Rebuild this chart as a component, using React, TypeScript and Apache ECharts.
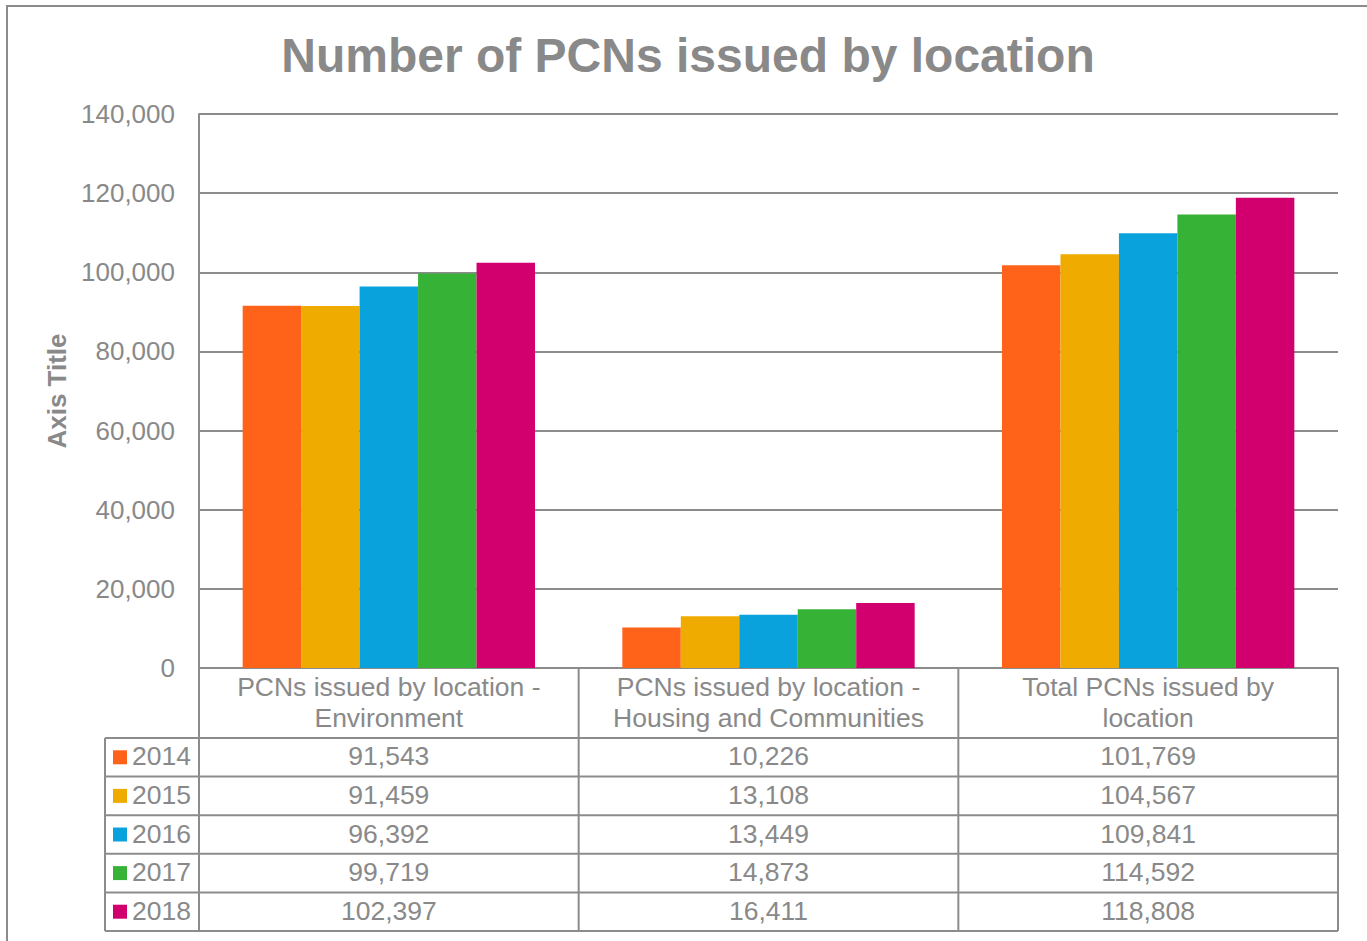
import React, { useEffect, useRef } from "react";
import * as echarts from "echarts";

const categories = [
  "PCNs issued by location -\nEnvironment",
  "PCNs issued by location -\nHousing and Communities",
  "Total PCNs issued by\nlocation",
];
const years = ["2014", "2015", "2016", "2017", "2018"];
const values2014 = [91543, 10226, 101769];
const values2015 = [91459, 13108, 104567];
const values2016 = [96392, 13449, 109841];
const values2017 = [99719, 14873, 114592];
const values2018 = [102397, 16411, 118808];
const seriesValues = [values2014, values2015, values2016, values2017, values2018];
const colors = ["#FF6319", "#F0AB00", "#0AA2DC", "#36B236", "#D2006F"];
const yTicks = { min: 0, max: 140000, interval: 20000 };

const TEXT = "#898989";
const LINE = "#8C8C8C";
const FONT = "'Liberation Sans', Arial, sans-serif";

const GRID_LEFT = 199;
const GRID_RIGHT = 1338;
const GRID_TOP = 114;
const GRID_BOTTOM = 668;
const HEADER_BOTTOM = 738;
const ROW_H = (931 - HEADER_BOTTOM) / years.length;
const KEY_LEFT = 105;

const fmt = (v: number) => v.toLocaleString("en-US");

export default function App() {
  const ref = useRef<HTMLDivElement>(null);
  useEffect(() => {
    if (!ref.current) return;
    const chart = echarts.init(ref.current, undefined, { renderer: "svg" });
    const colW = (GRID_RIGHT - GRID_LEFT) / categories.length;
    const tableBottom = HEADER_BOTTOM + ROW_H * years.length;
    const graphics: any[] = [];
    const ls = { stroke: LINE, lineWidth: 2 };
    graphics.push({ type: "rect", shape: { x: 7, y: 6, width: 1400, height: 980 }, style: { fill: "none", stroke: LINE, lineWidth: 2 }, silent: true });
    for (let i = 0; i <= categories.length; i++) {
      const x = GRID_LEFT + i * colW;
      graphics.push({ type: "line", shape: { x1: x, y1: GRID_BOTTOM, x2: x, y2: tableBottom }, style: ls });
    }
    graphics.push({ type: "line", shape: { x1: KEY_LEFT, y1: HEADER_BOTTOM, x2: KEY_LEFT, y2: tableBottom }, style: ls });
    for (let r = 0; r <= years.length; r++) {
      const y = HEADER_BOTTOM + r * ROW_H;
      graphics.push({ type: "line", shape: { x1: KEY_LEFT, y1: y, x2: GRID_RIGHT, y2: y }, style: ls });
    }
    categories.forEach((c, i) => {
      graphics.push({
        type: "text",
        x: GRID_LEFT + (i + 0.5) * colW,
        y: (GRID_BOTTOM + HEADER_BOTTOM) / 2 - 1,
        style: { text: c, fill: TEXT, font: `26.5px ${FONT}`, align: "center", verticalAlign: "middle", lineHeight: 31 },
      });
    });
    years.forEach((yr, r) => {
      const cy = HEADER_BOTTOM + (r + 0.5) * ROW_H;
      graphics.push({ type: "rect", shape: { x: 113, y: cy - 7, width: 14, height: 14 }, style: { fill: colors[r] } });
      graphics.push({ type: "text", x: 132, y: cy - 1, style: { text: yr, fill: TEXT, font: `26.5px ${FONT}`, align: "left", verticalAlign: "middle" } });
      seriesValues[r].forEach((v, i) => {
        graphics.push({
          type: "text",
          x: GRID_LEFT + (i + 0.5) * colW,
          y: cy - 1,
          style: { text: fmt(v), fill: TEXT, font: `26.5px ${FONT}`, align: "center", verticalAlign: "middle" },
        });
      });
    });

    chart.setOption({
      animation: false,
      backgroundColor: "#ffffff",
      title: {
        text: "Number of PCNs issued by location",
        left: 683,
        top: 26,
        textAlign: "center",
        textStyle: { color: TEXT, fontSize: 48, fontWeight: "bold", fontFamily: FONT },
      },
      grid: { left: GRID_LEFT, top: GRID_TOP, width: GRID_RIGHT - GRID_LEFT, height: GRID_BOTTOM - GRID_TOP, containLabel: false },
      xAxis: {
        type: "category",
        data: categories,
        axisLine: { show: true, lineStyle: { color: LINE, width: 2 } },
        axisTick: { show: false },
        axisLabel: { show: false },
      },
      yAxis: {
        type: "value",
        min: yTicks.min,
        max: yTicks.max,
        interval: yTicks.interval,
        name: "Axis Title",
        nameLocation: "middle",
        nameRotate: 90,
        nameGap: 142,
        nameTextStyle: { color: TEXT, fontSize: 26, fontWeight: "bold", fontFamily: FONT, verticalAlign: "middle" },
        axisLine: { show: true, lineStyle: { color: LINE, width: 2 } },
        axisTick: { show: false },
        axisLabel: { color: TEXT, fontSize: 26, fontFamily: FONT, margin: 24, formatter: (v: number) => fmt(v) },
        splitLine: { show: true, lineStyle: { color: LINE, width: 2 } },
      },
      series: years.map((yr, r) => ({
        name: yr,
        type: "bar",
        data: seriesValues[r],
        barGap: "0%",
        barCategoryGap: "23%",
        itemStyle: { color: colors[r] },
      })),
      graphic: graphics,
    });
    return () => chart.dispose();
  }, []);
  return <div ref={ref} style={{ position: "fixed", left: 0, top: 0, width: 1367, height: 941 }} />;
}
